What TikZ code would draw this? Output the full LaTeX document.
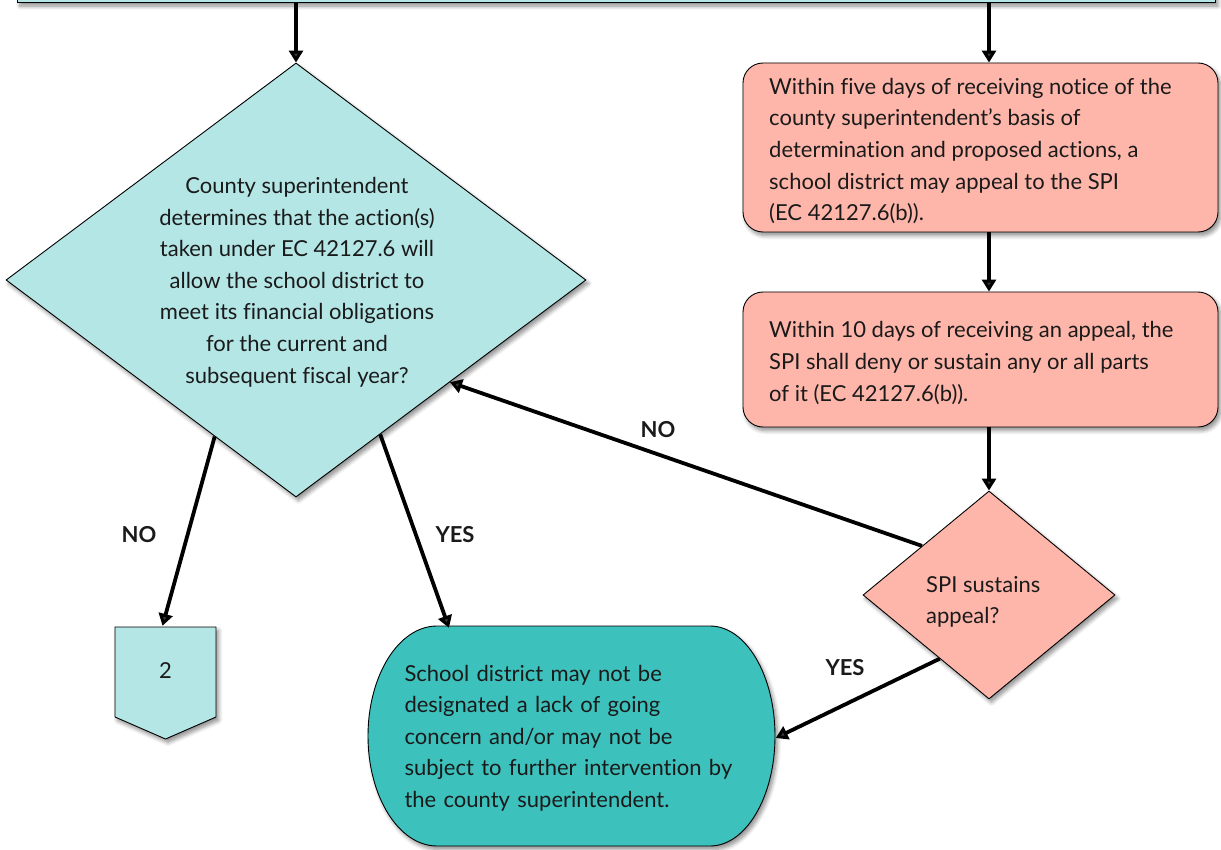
\documentclass[tikz,border=0pt]{standalone}
\usepackage{fontspec}
\setmainfont{Lato}[Ligatures={NoCommon}]
\usetikzlibrary{shapes.geometric,arrows.meta,shadows.blur,calc}

\definecolor{paleteal}{HTML}{B5E6E6}
\definecolor{deepteal}{HTML}{3DC1BC}
\definecolor{salmon}{HTML}{FFB6AA}
\definecolor{ink}{HTML}{1A1A1A}

\begin{document}
\begin{tikzpicture}[
  x=1pt, y=-1pt,
  font=\fontsize{22}{31.6}\selectfont,
  text=ink,
  softshadow/.style={blur shadow={shadow xshift=2.5pt, shadow yshift=-3.5pt,
      shadow blur radius=4pt, shadow blur steps=6, shadow opacity=45}},
  outline/.style={draw=black, line width=0.9pt},
  stepbox/.style={rectangle, outline, rounded corners=20pt, fill=salmon, softshadow,
      minimum width=475pt, inner sep=0pt},
  decision/.style={diamond, outline, softshadow, inner sep=0pt},
  txt/.style={inner sep=0pt},
  lbl/.style={inner sep=0pt, font=\fontsize{22}{26}\selectfont\bfseries},
  arr/.style={line width=3.8pt, -{Triangle[length=12pt,width=14pt]}}
]
\useasboundingbox (0,0) rectangle (1221,850);

% process bar running along the top edge
\node[rectangle, outline, fill=paleteal, softshadow, minimum width=1198pt,
      minimum height=60pt, anchor=south west, inner sep=0pt] (top) at (17,3) {};

% left decision
\node[decision, fill=paleteal, minimum width=580pt, minimum height=434pt] (q1) at (296,280) {};
\node[txt, align=center] (q1t) at (297,282) {County superintendent\\
  determines that the action(s)\\
  taken under EC 42127.6 will\\
  allow the school district to\\
  meet its financial obligations\\
  for the current and\\
  subsequent fiscal year?};

% appeal steps on the right
\node[stepbox, minimum height=169pt] (b1) at (980.5,147.5) {};
\node[txt, align=left, anchor=west] (b1t) at (769,151) {Within five days of receiving notice of the\\
  county superintendent’s basis of\\
  determination and proposed actions, a\\
  school district may appeal to the SPI\\
  (EC 42127.6(b)).};
\node[stepbox, minimum height=135pt] (b2) at (980.5,359.5) {};
\node[txt, align=left, anchor=west] (b2t) at (769,363) {Within 10 days of receiving an appeal, the\\
  SPI shall deny or sustain any or all parts\\
  of it (EC 42127.6(b)).};

% right decision
\node[decision, fill=salmon, minimum width=252pt, minimum height=208pt] (q2) at (989,595) {};
\node[txt, align=left, anchor=west] (q2t) at (926,602) {SPI sustains\\appeal?};

% off-page connector
\path[outline, fill=paleteal, softshadow]
  (115,627) -- (216,627) -- (216,717) -- (165.5,739) -- (115,717) -- cycle;
\node[txt, minimum width=101pt, minimum height=90pt] (n2) at (165.5,671) {2};

% terminal
\path[outline, fill=deepteal, softshadow]
  (437,626) -- (710,626)
  arc[start angle=90, end angle=-90, x radius=65pt, y radius=110pt]
  -- (437,846)
  arc[start angle=270, end angle=90, x radius=69pt, y radius=110pt]
  -- cycle;
\node[txt, minimum width=407pt, minimum height=220pt, text width=334pt,
      inner xsep=37pt, align=left] (term) at (571.5,738) {School district may not be\\
  designated a lack of going\\
  concern and/or may not be\\
  subject to further intervention by\\
  the county superintendent.};

% connectors
\draw[arr] (q1.north |- top.south) -- (q1.north);
\draw[arr] (q2.north |- top.south) -- (q2.north |- b1.north);
\draw[arr] (q2.north |- b1.south) -- (q2.north |- b2.north);
\draw[arr] (q2.north |- b2.south) -- (q2.north);
\draw[arr] ($(q2.west)!0.47!(q2.north)$) -- ($(q1.south)!0.53!(q1.east)$);
\draw[arr] ($(q1.west)!0.72!(q1.south)$) -- ($(n2.north)+(-3,0)$);
\draw[arr] ($(q1.south)!0.29!(q1.east)$) -- ($(term.north west)!0.2!(term.north east)$);
\draw[arr] ($(q2.west)!0.61!(q2.south)$) -- (term.east);

% branch labels
\node[lbl] (noA) at (658,430) {NO};
\node[lbl] (noB) at (139,535) {NO};
\node[lbl] (yesA) at (455,535) {YES};
\node[lbl] (yesB) at (845,668) {YES};
\end{tikzpicture}
\end{document}
